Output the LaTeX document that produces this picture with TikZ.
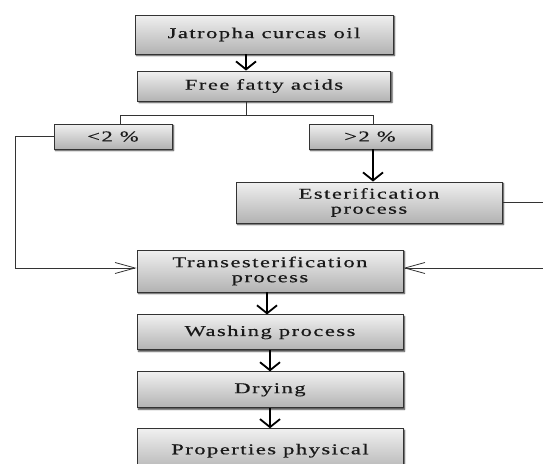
\documentclass[tikz,border=0pt]{standalone}
\usepackage{fontspec}
\setmainfont{Liberation Serif}
\newfontfamily\boxfont[FakeStretch=1.5,LetterSpace=10,FakeBold=0.6]{Liberation Serif}
\usetikzlibrary{positioning}
\usetikzlibrary{arrows.meta}
\usetikzlibrary{shadows.blur}
\tikzset{
process_box/.style={rectangle, draw=black!80, line width=0.9pt, top color=black!6, bottom color=black!30, text=black!90, font=\boxfont\fontsize{15}{15}\selectfont, align=center, inner sep=0pt, blur shadow={shadow xshift=1.5pt, shadow yshift=-1.5pt, shadow blur radius=1.5pt, shadow opacity=80}},
link_line/.style={draw=black!80, line width=0.8pt},
main_arrow/.style={draw=black, line width=1.8pt, -{Straight Barb[length=8pt,width=20pt]}},
side_arrow/.style={draw=black!80, line width=0.8pt, -{Straight Barb[length=20pt,width=11pt]}}
}

\begin{document}
\begin{tikzpicture}[x=1pt,y=-1pt]
    \useasboundingbox (0,0) rectangle (543,463);
    \node[process_box, minimum width=258pt, minimum height=39pt] (jco) at (264,34.5) {Jatropha curcas oil};
    \node[process_box, minimum width=253pt, minimum height=30pt] (ffa) at (264,86) {Free fatty acids};
    \node[process_box, minimum width=118pt, minimum height=25pt] (low) at (113,136.5) {<2 \%};
    \node[process_box, minimum width=122pt, minimum height=25pt] (high) at (370,136.5) {>2 \%};
    \node[process_box, minimum width=266pt, minimum height=41pt] (est) at (369,202.5) {Esterification\\process};
    \node[process_box, minimum width=266pt, minimum height=42pt] (trans) at (270,271) {Transesterification\\process};
    \node[process_box, minimum width=266pt, minimum height=35pt] (wash) [below=22pt of trans] {Washing process};
    \node[process_box, minimum width=266pt, minimum height=36pt] (dry) [below=21pt of wash] {Drying};
    \node[process_box, minimum width=266pt, minimum height=44pt] (prop) [below=20pt of dry] {Properties physical};

    \draw[main_arrow] ([xshift=-18pt]jco.south) -- ([xshift=-18pt]jco.south |- ffa.north);
    \draw[link_line] ([xshift=-18pt]ffa.south) -- ++(0,14) coordinate (fork);
    \draw[link_line] ([xshift=7.5pt]low.north) |- (fork) -| ([xshift=3pt]high.north);
    \draw[main_arrow] ([xshift=3pt]high.south) -- ([xshift=3pt]high.south |- est.north);
    \draw[side_arrow] (low.west) -- ++(-37.7,0) |- ([yshift=3pt]trans.west);
    \draw[side_arrow] (est.east) -- ++(60,0) |- ([yshift=3pt]trans.east);
    \draw[main_arrow] ([xshift=-3pt]trans.south) -- ([xshift=-3pt]trans.south |- wash.north);
    \draw[main_arrow] (wash) -- (dry);
    \draw[main_arrow] (dry) -- (prop);
\end{tikzpicture}
\end{document}
